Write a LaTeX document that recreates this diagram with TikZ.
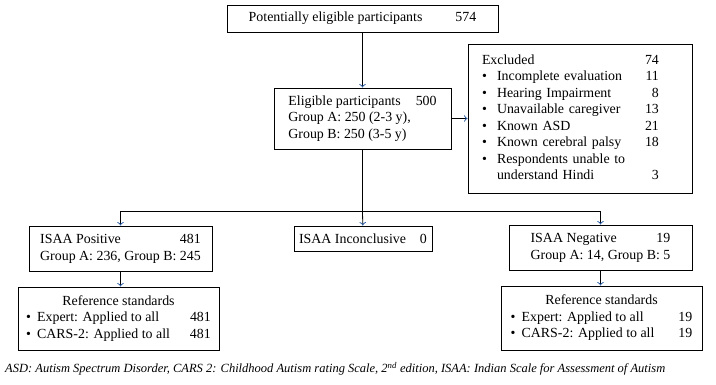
\documentclass[tikz,border=0pt]{standalone}
\usepackage{fontspec}
\setmainfont{Liberation Serif}
\usepackage{tikz}
\usetikzlibrary{arrows.meta}
\definecolor{arrowblue}{RGB}{45,95,165}

\begin{document}
\begin{tikzpicture}[x=1pt,y=-1pt,
  box/.style={draw,line width=0.9pt,inner sep=0pt,font=\fontsize{13.9}{16.5}\selectfont},
  link/.style={line width=0.8pt,-{To[length=3.5pt,width=6.5pt,color=arrowblue]}}]
\useasboundingbox (0,0) rectangle (716,384);
\node [box,minimum width=271pt,minimum height=27pt] (a) at (362.5,18.5)
  {Potentially eligible participants\hspace{33pt}574};
\node [box,minimum width=177pt,minimum height=61pt,align=left] (b) at (362.5,118.5)
  {Eligible participants\hspace{15pt}500\\Group A: 250 (2-3 y),\\Group B: 250 (3-5 y)};
\node [box,minimum height=149pt,text width=196pt,inner xsep=14pt,align=left] (c) at (580,118.5)
  {\begin{tabular}{@{}p{15pt}@{}p{148pt}@{}r@{}}
  \multicolumn{2}{@{}l}{Excluded} & 74\\
  \textbullet & Incomplete evaluation & 11\\
  \textbullet & Hearing Impairment & 8\\
  \textbullet & Unavailable caregiver & 13\\
  \textbullet & Known ASD & 21\\
  \textbullet & Known cerebral palsy & 18\\
  \textbullet & Respondents unable to & \\
   & understand Hindi & 3
  \end{tabular}};
\node [box,minimum width=183pt,minimum height=45pt] (d) at (120.5,248.5)
  {\begin{tabular}{@{}l@{}r@{}}
  ISAA Positive & 481\\
  \multicolumn{2}{@{}c@{}}{Group A: 236, Group B: 245}
  \end{tabular}};
\node [box,minimum width=138pt,minimum height=25pt] (e) at (363,238.5)
  {ISAA Inconclusive\hspace{14pt}0};
\node [box,minimum width=183pt,minimum height=45pt] (f) at (600.5,247.5)
  {\begin{tabular}{@{}l@{}r@{}}
  ISAA Negative & 19\\
  \multicolumn{2}{@{}c@{}}{Group A: 14, Group B: 5}
  \end{tabular}};
\node [box,minimum width=201pt,minimum height=63pt] (g) at (118.5,318.5)
  {\begin{tabular}{@{}p{11pt}@{}l@{\hspace{20pt}}r@{}}
  \multicolumn{3}{@{}c@{}}{Reference standards}\\
  \textbullet & Expert: Applied to all & 481\\
  \textbullet & CARS-2: Applied to all & 481
  \end{tabular}};
\node [box,minimum width=201pt,minimum height=64pt] (h) at (601.5,318)
  {\begin{tabular}{@{}p{11pt}@{}l@{\hspace{24pt}}r@{}}
  \multicolumn{3}{@{}c@{}}{Reference standards}\\
  \textbullet & Expert: Applied to all & 19\\
  \textbullet & CARS-2: Applied to all & 19
  \end{tabular}};
\node [anchor=west,inner sep=0pt,font=\fontsize{12.5}{14}\selectfont\itshape] (k) at (5,369)
  {ASD: Autism Spectrum Disorder, CARS 2: Childhood Autism rating Scale, 2\textsuperscript{nd} edition, ISAA: Indian Scale for Assessment of Autism};
\coordinate (split) at (362.5,211);
\draw [link] (a) -- (b);
\draw [link] (b) -- (c);
\draw [line width=0.8pt] (b) -- (split);
\draw [link] (split) -| (d);
\draw [link] (split) -- (e);
\draw [link] (split) -| (f);
\draw [link] (d.south) -- (d.south |- g.north);
\draw [link] (f.south) -- (f.south |- h.north);
\end{tikzpicture}
\end{document}
